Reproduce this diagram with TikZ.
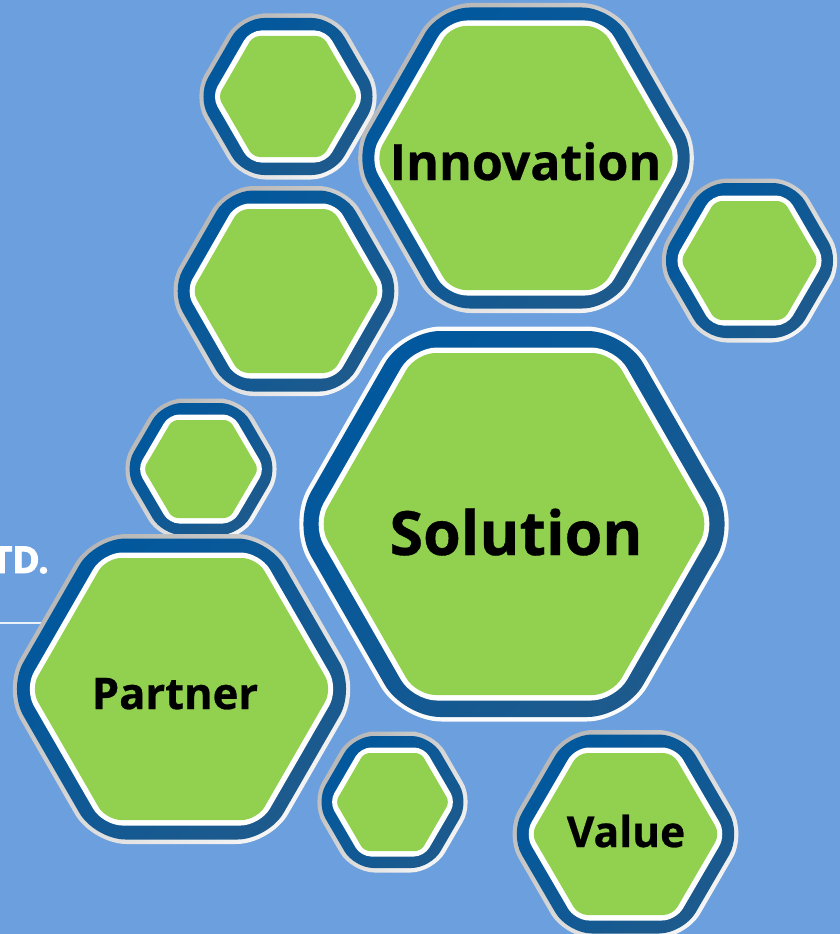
\documentclass[tikz,border=0pt]{standalone}
\usepackage{fontspec}
\newfontfamily\hexfont{Open Sans}[BoldFeatures={FakeBold=0.6}]
\newfontfamily\heavyfont{Open Sans}[BoldFeatures={FakeBold=2.5}]
\definecolor{bg}{HTML}{6C9FDE}
\definecolor{leaf}{HTML}{92D050}
\definecolor{band}{HTML}{00589E}
\definecolor{banddark}{HTML}{1E5A8C}
\definecolor{rimgray}{HTML}{B6B6B6}
\definecolor{rimlight}{HTML}{F6F6F6}
\tikzset{
  hexrim/.style={top color=rimgray, bottom color=rimlight, shading angle=45},
  solrim/.style={fill=white!97!gray},
  hexband/.style={top color=band, middle color=band, bottom color=banddark, shading angle=45},
  hexwhite/.style={fill=white},
  hexgreen/.style={fill=leaf},
  hexlabel/.style={anchor=base, inner sep=0pt, text=black, font=\hexfont\bfseries},
}
\newcommand{\hexlayer}[6]{%
  \pgfmathsetmacro{\hA}{#3+1.1547*#5}%
  \pgfmathsetmacro{\hH}{#3/2+0.5774*#5}%
  \pgfmathsetmacro{\hB}{#4+#5}%
  \pgfmathsetmacro{\hR}{0.1*#3+0.8*#5}%
  \path[#6, rounded corners=\hR pt] ({#1},{#2-\hB}) -- ({#1+\hH},{#2-\hB}) -- ({#1+\hA},{#2}) -- ({#1+\hH},{#2+\hB}) -- ({#1-\hH},{#2+\hB}) -- ({#1-\hA},{#2}) -- ({#1-\hH},{#2-\hB}) -- cycle;%
}
\newcommand{\hexcell}[6]{%
  \pgfmathsetmacro{\dBlue}{5.5+#5}%
  \pgfmathsetmacro{\dRim}{10+#5}%
  \hexlayer{#1}{#2}{#3}{#4}{\dRim}{#6}%
  \hexlayer{#1}{#2}{#3}{#4}{\dBlue}{hexband}%
  \hexlayer{#1}{#2}{#3}{#4}{5.5}{hexwhite}%
  \hexlayer{#1}{#2}{#3}{#4}{0}{hexgreen}%
}
\begin{document}
\begin{tikzpicture}[x=1pt,y=-1pt]
\useasboundingbox (0,0) rectangle (840,934);
\clip (0,0) rectangle (840,934);
\fill[bg] (0,0) rectangle (840,934);
% company name fragment and rule
\draw[white!85!bg, line width=1.5pt] (0,623) -- (80,623);
\node[anchor=base east, inner sep=0pt, text=white, font=\heavyfont\bfseries\fontsize{37}{40}\selectfont] (ltd) at (49,573) {TD.};
% hexagons
\hexcell{288}{96.5}{70}{60.5}{12.5}{hexrim}
\hexcell{526}{158}{151}{132}{13}{hexrim}
\hexcell{749.5}{260.5}{69}{59.5}{12.5}{hexrim}
\hexcell{286}{291}{94}{82}{13}{hexrim}
\hexcell{201}{469}{57.5}{49}{11.5}{hexrim}
\hexcell{514}{524}{196}{171}{16.5}{solrim}
\hexcell{181.5}{689}{151}{131}{14}{hexrim}
\hexcell{392.5}{802}{57}{49}{11.5}{hexrim}
\hexcell{625.5}{834}{94.5}{81}{13}{hexrim}
% labels
\node[hexlabel, font=\hexfont\bfseries\fontsize{50}{53}\selectfont] (innovation) at (525.5,180) {Innovation};
\node[hexlabel, font=\hexfont\bfseries\fontsize{61}{64}\selectfont] (solution) at (516,555) {Solution};
\node[hexlabel, font=\hexfont\bfseries\fontsize{43.5}{46}\selectfont] (partner) at (175,709) {Partner};
\node[hexlabel, font=\hexfont\bfseries\fontsize{42.5}{45}\selectfont] (value) at (626,847) {Value};
\end{tikzpicture}
\end{document}
